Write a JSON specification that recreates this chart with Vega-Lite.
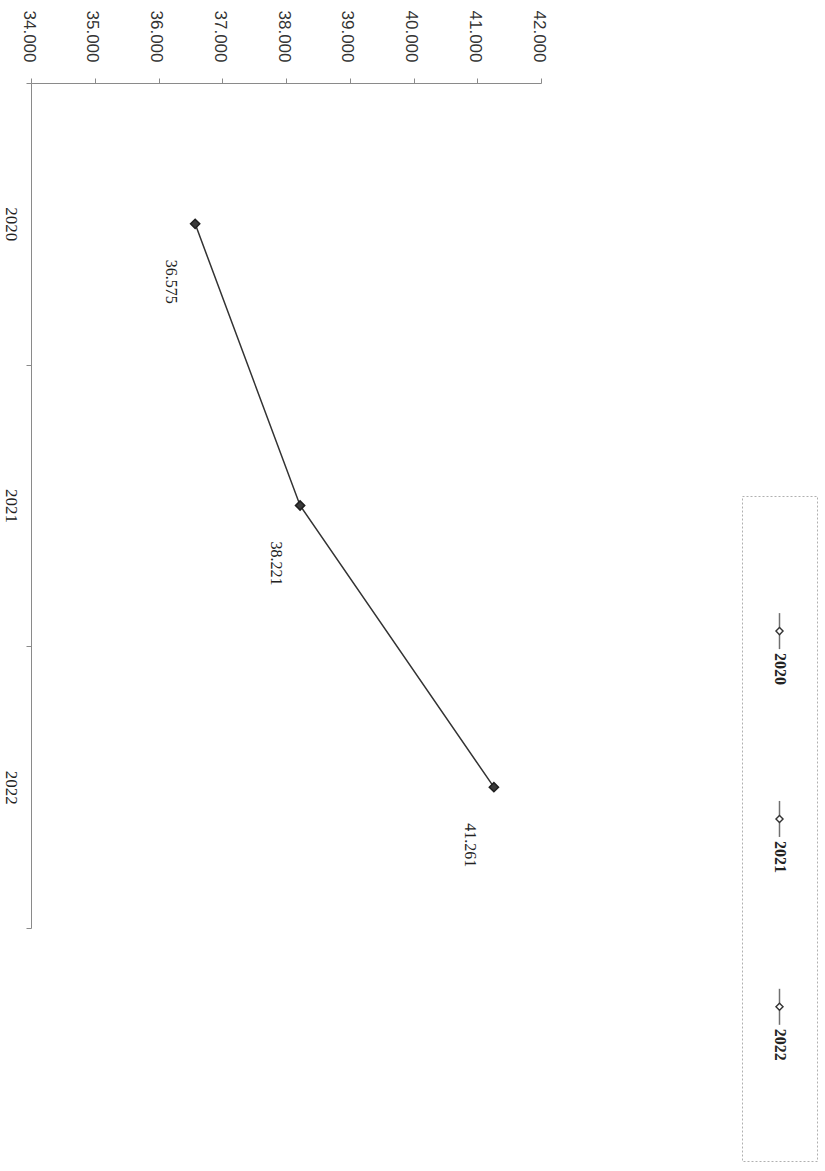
{
  "$schema": "https://vega.github.io/schema/vega-lite/v6.json",
  "background": "white",
  "padding": {"left": 2, "top": 10, "right": 5, "bottom": 5},
  "spacing": 194,
  "config": {
    "locale": {"number": {"decimal": ",", "thousands": ".", "grouping": [3], "currency": ["", " €"]}},
    "view": {"stroke": null},
    "axis": {"grid": false, "title": null, "domainColor": "#8a8a8a", "tickColor": "#8a8a8a"}
  },
  "datasets": {
    "main": [
      {"year": "2020", "value": 36575},
      {"year": "2021", "value": 38221},
      {"year": "2022", "value": 41261}
    ],
    "legend": [
      {"series": "2020"},
      {"series": "2021"},
      {"series": "2022"}
    ]
  },
  "hconcat": [
    {
      "width": 510,
      "height": 845,
      "data": {"name": "main"},
      "encoding": {
        "x": {
          "field": "value",
          "type": "quantitative",
          "scale": {"domain": [34000, 42000], "nice": false, "zero": false},
          "axis": {
            "orient": "top",
            "values": [34000, 35000, 36000, 37000, 38000, 39000, 40000, 41000, 42000],
            "format": ",d",
            "labelAngle": 90,
            "labelAlign": "right",
            "labelBaseline": "middle",
            "labelFont": "Liberation Sans",
            "labelFontSize": 17,
            "labelColor": "#333333",
            "tickSize": 5,
            "labelPadding": 16,
            "labelOffset": -3,
            "title": null
          }
        },
        "y": {
          "field": "year",
          "type": "nominal",
          "sort": "ascending",
          "scale": {"type": "band", "paddingInner": 0, "paddingOuter": 0},
          "axis": {
            "orient": "left",
            "labelAngle": 90,
            "labelAlign": "center",
            "labelBaseline": "top",
            "labelFont": "Liberation Serif",
            "labelFontSize": 17,
            "labelColor": "#222222",
            "tickSize": 5,
            "tickBand": "extent",
            "labelPadding": 8,
            "title": null
          }
        }
      },
      "layer": [
        {"mark": {"type": "line", "color": "#333333", "strokeWidth": 1.5}},
        {"mark": {"type": "point", "shape": "diamond", "filled": true, "fill": "#3a3a3a", "stroke": "#1e1e1e", "strokeWidth": 1.5, "size": 85, "opacity": 1}},
        {
          "mark": {"type": "text", "angle": 90, "align": "left", "baseline": "middle", "dx": 36, "dy": 24, "font": "Liberation Serif", "fontSize": 16, "color": "#222222"},
          "encoding": {"text": {"field": "value", "type": "quantitative", "format": ",d"}}
        }
      ]
    },
    {
      "spacing": 20,
      "vconcat": [
        {
          "width": 75,
          "height": 392,
          "data": {"values": [{}]},
          "mark": {"type": "point", "opacity": 0}
        },
        {
          "width": 75,
          "height": 665,
          "data": {"name": "legend"},
          "view": {"stroke": "#b0b0b0", "strokeDash": [2, 2], "strokeWidth": 1},
          "encoding": {
            "y": {"field": "series", "type": "nominal", "sort": "ascending", "scale": {"type": "point", "padding": 0.77, "align": 0.467}, "axis": null}
          },
          "layer": [
            {"mark": {"type": "tick", "orient": "vertical", "size": 36, "thickness": 1.5, "color": "#333333"}},
            {"mark": {"type": "point", "shape": "diamond", "filled": true, "fill": "white", "stroke": "#333333", "strokeWidth": 1.4, "size": 50, "opacity": 1}},
            {
              "mark": {"type": "text", "angle": 90, "align": "left", "baseline": "middle", "dx": 22, "font": "Liberation Serif", "fontSize": 16, "fontWeight": "bold", "color": "#222222"},
              "encoding": {"text": {"field": "series"}}
            }
          ]
        }
      ]
    }
  ]
}
